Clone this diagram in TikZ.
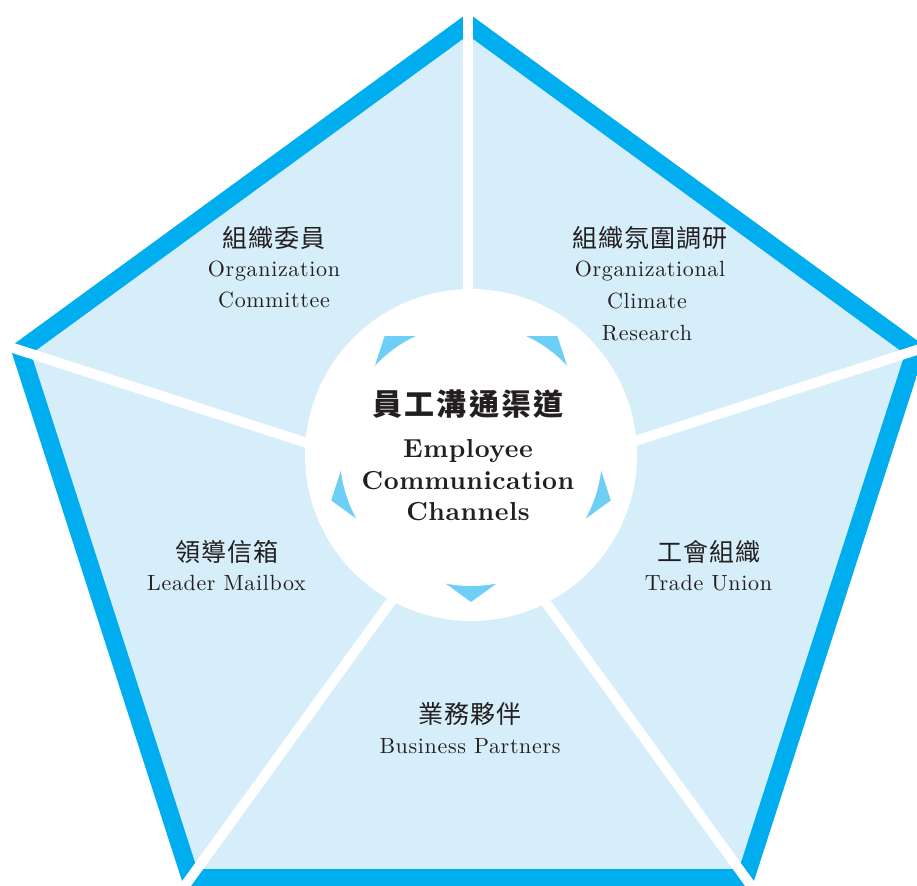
\documentclass[tikz,border=0pt]{standalone}
\usepackage{fontspec}
\newfontfamily\cjk{Noto Sans CJK TC}
\newfontfamily\lmten[BoldFont=lmroman10-bold.otf]{lmroman10-regular.otf}
\usetikzlibrary{calc}
\definecolor{bandblue}{RGB}{0,174,239}
\definecolor{lightfill}{RGB}{214,237,250}
\definecolor{arrowblue}{RGB}{109,207,246}
\definecolor{txt}{RGB}{35,31,32}
\tikzset{
  cjkL/.style={text=txt, inner sep=0pt, anchor=base, font=\cjk\fontsize{25}{30}\selectfont\addfontfeature{LetterSpace=4}},
  enL/.style={text=txt, inner sep=0pt, anchor=base, font=\lmten\fontsize{22}{26}\selectfont\addfontfeature{LetterSpace=3}},
  cjkC/.style={text=txt, inner sep=0pt, anchor=base, font=\cjk\bfseries\fontsize{30}{36}\selectfont\addfontfeature{LetterSpace=7}},
  enC/.style={text=txt, inner sep=0pt, anchor=base, font=\lmten\bfseries\fontsize{26}{30}\selectfont\addfontfeature{LetterSpace=2}},
  divider/.style={white, line width=10pt},
  band/.style={bandblue, line width=36pt}
}
\begin{document}
\begin{tikzpicture}[x=1pt,y=-1pt]
\useasboundingbox (0,0) rectangle (917,885);
\clip (0,0) rectangle (917,885);
\coordinate (O) at (468,495);
\coordinate (T) at (468,13);
\coordinate (R) at (926,347);
\coordinate (BR) at (752,887);
\coordinate (BL) at (184,887);
\coordinate (L) at (10,347);
\coordinate (C) at (471,455);
% sectors
\foreach \a/\b in {T/R,R/BR,BR/BL,BL/L,L/T}{
  \begin{scope}
    \clip (O) -- (\a) -- (\b) -- cycle;
    \fill[lightfill] (O) -- (\a) -- (\b) -- cycle;
    \draw[band] (\a) -- (\b);
  \end{scope}
}
% dividers
\foreach \v in {T,R,BR,BL,L}
  \draw[divider] (O) -- ($(O)!1.05!(\v)$);
% centre disc
\fill[white] (C) circle[radius=166pt];
\fill[arrowblue] ($(C)+(90:147)$) -- ($(C)+(162:147)$) -- ($(C)+(234:147)$) -- ($(C)+(306:147)$) -- ($(C)+(18:147)$) -- cycle;
\fill[white] (C) circle[radius=131pt];
% labels
\node[cjkL] (oczh) at (274,247.5) {組織委員};
\node[enL] (oc1) at (274,276) {Organization};
\node[enL] (oc2) at (274,307) {Committee};
\node[cjkL] (crzh) at (650,247.5) {組織氛圍調研};
\node[enL] (cr1) at (650,276) {Organizational};
\node[enL] (cr2) at (647,308) {Climate};
\node[enL] (cr3) at (647,340) {Research};
\node[cjkL] (lmzh) at (226.5,561.5) {領導信箱};
\node[enL] (lm1) at (226.5,590) {Leader Mailbox};
\node[cjkL] (tuzh) at (708.5,561.5) {工會組織};
\node[enL] (tu1) at (708.5,590) {Trade Union};
\node[cjkL] (bpzh) at (470,723.5) {業務夥伴};
\node[enL] (bp1) at (470,753) {Business Partners};
\node[cjkC] (czh) at (468,415) {員工溝通渠道};
\node[enC] (c1) at (468,457) {Employee};
\node[enC] (c2) at (468,489) {Communication};
\node[enC] (c3) at (468,520) {Channels};
\end{tikzpicture}
\end{document}
